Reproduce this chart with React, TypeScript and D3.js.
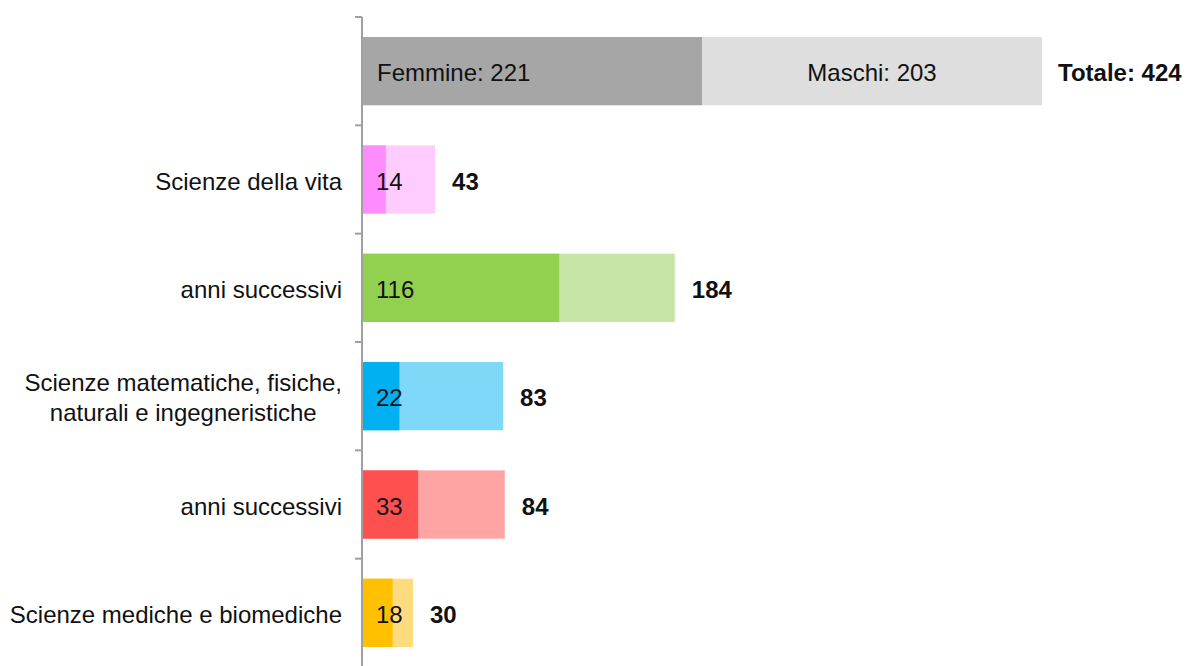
import React, { useEffect, useRef } from "react";
import * as d3 from "d3";

const categories = [
  "Scienze della vita",
  "anni successivi",
  "Scienze matematiche, fisiche,\nnaturali e ingegneristiche",
  "anni successivi",
  "Scienze mediche e biomediche",
];
const femmine = [14, 116, 22, 33, 18];
const totali = [43, 184, 83, 84, 30];
const darkColors = ["#ff8cff", "#92d050", "#00b0f0", "#ff5050", "#ffc000"];
const lightColors = ["#ffccff", "#c6e5a6", "#80d8f8", "#ffa3a3", "#ffdb7f"];

const legendLabels = ["Femmine", "Maschi"];
const legendValues = [221, 203];
const legendColors = ["#a6a6a6", "#dedede"];
const totalLabel = "Totale";
const totalValue = 424;

const W = 1190;
const H = 666;
const FONT = "'Liberation Sans', Arial, sans-serif";
const DY = "0.43em";

export default function App() {
  const ref = useRef<SVGSVGElement>(null);
  useEffect(() => {
    const svg = d3.select(ref.current);
    svg.selectAll("*").remove();
    const axisX = 362;
    const x = d3.scaleLinear().domain([0, 400]).range([axisX, 1042]);
    const rows = ["__legend__", ...categories.map((_, i) => "r" + i)];
    const y = d3.scaleBand<string>().domain(rows).range([17, 667]).padding(0);
    const barH = y.bandwidth() * 0.63;
    const barY = (r: string) => (y(r) as number) + (y.bandwidth() - barH) / 2;
    const mid = (r: string) => (y(r) as number) + y.bandwidth() / 2;

    // Legend bar (top row) split in two halves over full range
    const lx = d3.scaleBand<string>().domain(legendLabels).range([axisX, x(400)]);
    const lg = svg.append("g");
    legendLabels.forEach((lab, i) => {
      lg.append("rect")
        .attr("x", lx(lab) as number)
        .attr("y", barY("__legend__"))
        .attr("width", lx.bandwidth())
        .attr("height", barH)
        .attr("fill", legendColors[i]);
    });
    lg.append("text")
      .attr("x", (lx("Femmine") as number) + 15)
      .attr("y", mid("__legend__"))
      .attr("dy", DY)
      .attr("font-family", FONT)
      .attr("font-size", 24)
      .attr("fill", "#111")
      .text(`${legendLabels[0]}: ${legendValues[0]}`);
    lg.append("text")
      .attr("x", (lx("Maschi") as number) + lx.bandwidth() / 2)
      .attr("y", mid("__legend__"))
      .attr("dy", DY)
      .attr("text-anchor", "middle")
      .attr("font-family", FONT)
      .attr("font-size", 24)
      .attr("fill", "#111")
      .text(`${legendLabels[1]}: ${legendValues[1]}`);
    lg.append("text")
      .attr("x", x(400) + 16)
      .attr("y", mid("__legend__"))
      .attr("dy", DY)
      .attr("font-family", FONT)
      .attr("font-size", 24)
      .attr("font-weight", "bold")
      .attr("fill", "#111")
      .text(`${totalLabel}: ${totalValue}`);

    // Category bars
    categories.forEach((cat, i) => {
      const r = "r" + i;
      const g = svg.append("g");
      g.append("rect")
        .attr("x", x(0))
        .attr("y", barY(r))
        .attr("width", x(totali[i]) - x(0))
        .attr("height", barH)
        .attr("fill", lightColors[i]);
      g.append("rect")
        .attr("x", x(0))
        .attr("y", barY(r))
        .attr("width", x(femmine[i]) - x(0))
        .attr("height", barH)
        .attr("fill", darkColors[i]);
      g.append("text")
        .attr("x", x(0) + 14)
        .attr("y", mid(r))
        .attr("dy", DY)
        .attr("font-family", FONT)
        .attr("font-size", 24)
        .attr("fill", "#111")
        .text(femmine[i]);
      g.append("text")
        .attr("x", x(totali[i]) + 17)
        .attr("y", mid(r))
        .attr("dy", DY)
        .attr("font-family", FONT)
        .attr("font-size", 24)
        .attr("font-weight", "bold")
        .attr("fill", "#111")
        .text(totali[i]);

      // category label (multi-line centered block, right aligned)
      const lines = cat.split("\n");
      const lineH = 30;
      const t = g.append("text")
        .attr("font-family", FONT)
        .attr("font-size", 24)
        .attr("fill", "#111")
        .attr("text-anchor", "middle");
      const spans = lines.map((ln, k) =>
        t.append("tspan")
          .attr("y", mid(r) + (k - (lines.length - 1) / 2) * lineH)
          .attr("dy", DY)
          .text(ln)
      );
      const widths = spans.map((s) => (s.node() as SVGTSpanElement).getComputedTextLength());
      const maxW = d3.max(widths) as number;
      const cx = axisX - 20 - maxW / 2;
      spans.forEach((s) => s.attr("x", cx));
    });

    // Axis
    const ax = svg.append("g").attr("stroke", "#a0a0a0").attr("stroke-width", 2);
    ax.append("line").attr("x1", axisX).attr("x2", axisX).attr("y1", 17).attr("y2", 667);
    const ticks = [...rows.map((r) => y(r) as number), 667];
    ticks.forEach((ty) => {
      ax.append("line").attr("x1", axisX - 7).attr("x2", axisX).attr("y1", ty).attr("y2", ty);
    });
  }, []);
  return (
    <svg
      ref={ref}
      width={W}
      height={H}
      style={{ position: "absolute", left: 0, top: 0, background: "#fff" }}
    />
  );
}
